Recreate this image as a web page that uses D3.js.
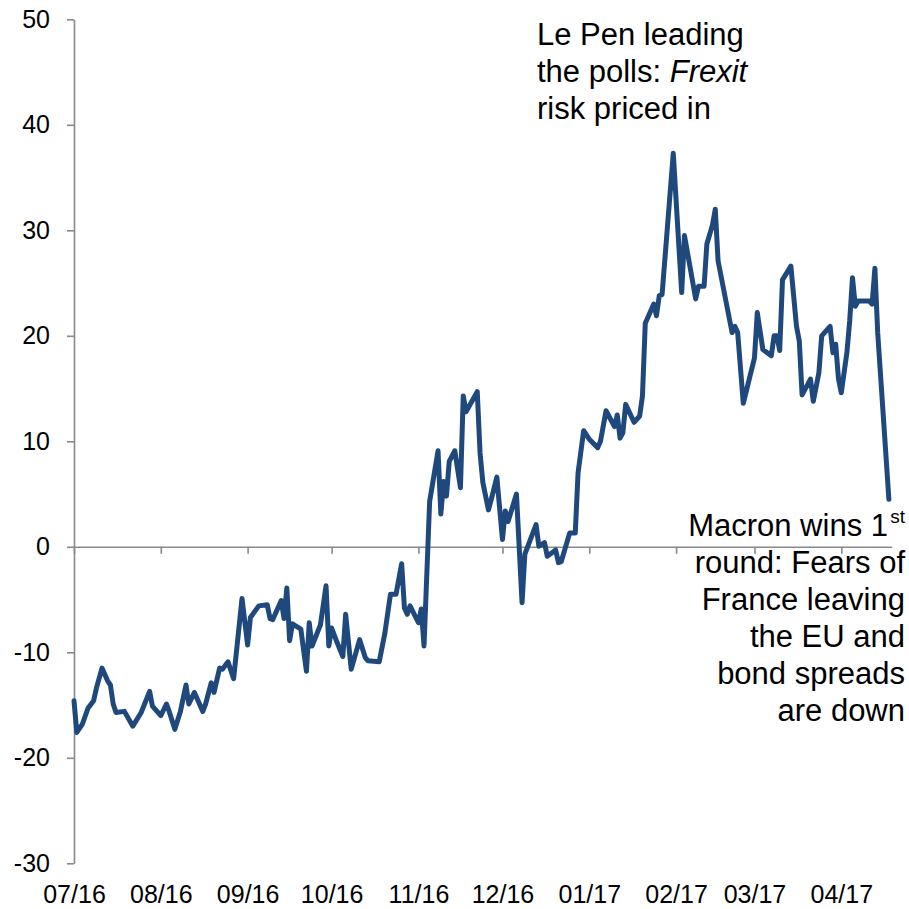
<!DOCTYPE html>
<html>
<head>
<meta charset="utf-8">
<script src="https://cdn.jsdelivr.net/npm/d3@7"></script>
<style>
  html, body { margin: 0; padding: 0; background: #fff; }
  svg { display: block; font-family: "Liberation Sans", Arial, sans-serif; }
</style>
</head>
<body>
<svg id="chart" width="909" height="909"></svg>
<script>
// ---- data ----
const dates = [
  "2016-07-01","2016-07-02","2016-07-04","2016-07-06","2016-07-08","2016-07-09","2016-07-11","2016-07-13","2016-07-14","2016-07-15",
  "2016-07-16","2016-07-19","2016-07-22","2016-07-25","2016-07-28","2016-07-29","2016-08-01","2016-08-03","2016-08-04","2016-08-06",
  "2016-08-08","2016-08-10","2016-08-11","2016-08-13","2016-08-16","2016-08-17","2016-08-19","2016-08-20","2016-08-22","2016-08-23",
  "2016-08-25","2016-08-27","2016-08-30","2016-09-01","2016-09-02","2016-09-05","2016-09-08","2016-09-09","2016-09-10","2016-09-13",
  "2016-09-14","2016-09-15","2016-09-16","2016-09-17","2016-09-20","2016-09-22","2016-09-23","2016-09-24","2016-09-27","2016-09-29",
  "2016-09-30","2016-10-01","2016-10-03","2016-10-05","2016-10-06","2016-10-08","2016-10-11","2016-10-13","2016-10-14","2016-10-18",
  "2016-10-20","2016-10-22","2016-10-24","2016-10-26","2016-10-27","2016-10-28","2016-10-29","2016-11-01","2016-11-02","2016-11-03",
  "2016-11-05","2016-11-08","2016-11-09","2016-11-10","2016-11-11","2016-11-12","2016-11-14","2016-11-16","2016-11-17","2016-11-18",
  "2016-11-22","2016-11-23","2016-11-24","2016-11-26","2016-11-27","2016-11-29","2016-12-01","2016-12-02","2016-12-03","2016-12-06",
  "2016-12-08","2016-12-09","2016-12-13","2016-12-14","2016-12-16","2016-12-17","2016-12-20","2016-12-21","2016-12-22","2016-12-25",
  "2016-12-27","2016-12-28","2016-12-30","2017-01-01","2017-01-04","2017-01-05","2017-01-07","2017-01-10","2017-01-11","2017-01-12",
  "2017-01-13","2017-01-14","2017-01-17","2017-01-19","2017-01-20","2017-01-21","2017-01-24","2017-01-25","2017-01-26","2017-01-27",
  "2017-01-31","2017-02-03","2017-02-04","2017-02-08","2017-02-09","2017-02-11","2017-02-12","2017-02-14","2017-02-15","2017-02-16",
  "2017-02-21","2017-02-22","2017-02-23","2017-02-25","2017-03-01","2017-03-02","2017-03-04","2017-03-07","2017-03-08","2017-03-09",
  "2017-03-10","2017-03-11","2017-03-14","2017-03-16","2017-03-17","2017-03-18","2017-03-21","2017-03-22","2017-03-24","2017-03-25",
  "2017-03-28","2017-03-29","2017-03-30","2017-03-31","2017-04-01","2017-04-03","2017-04-04","2017-04-05","2017-04-06","2017-04-07",
  "2017-04-11","2017-04-12","2017-04-13","2017-04-14","2017-04-18"
];
const spread = [
  -14.6,-17.6,-16.8,-15.3,-14.6,-13.4,-11.5,-12.7,-13.1,-14.9,
  -15.7,-15.6,-17.0,-15.7,-13.7,-15.1,-16.0,-14.9,-15.6,-17.3,
  -15.6,-13.1,-14.9,-13.8,-15.6,-14.9,-12.9,-13.8,-11.5,-11.6,
  -10.9,-12.5,-4.9,-9.3,-6.7,-5.6,-5.5,-6.8,-6.9,-5.1,
  -6.8,-3.9,-8.9,-7.3,-7.8,-11.8,-7.2,-9.4,-7.4,-3.7,
  -9.4,-7.7,-9.1,-10.4,-6.4,-11.6,-8.8,-10.5,-10.8,-10.9,
  -8.2,-4.5,-4.5,-1.6,-5.8,-6.4,-5.6,-7.2,-5.9,-9.4,
  4.3,9.1,3.1,6.2,4.8,8.1,9.1,5.6,14.3,12.8,
  14.7,8.9,6.1,3.5,4.5,6.6,0.7,3.4,2.4,5.0,
  -5.3,-0.7,2.1,0.05,0.4,-0.9,-0.3,-1.5,-1.4,1.3,
  1.3,7.0,11.0,10.2,9.4,10.0,12.9,11.4,12.5,10.3,
  10.8,13.5,11.8,12.4,14.3,21.2,23.0,21.9,23.8,23.9,
  37.3,24.1,29.5,23.5,24.7,24.7,28.7,30.5,32.0,27.1,
  20.3,20.9,20.3,13.6,17.9,22.2,18.7,18.1,20.0,20.0,
  18.6,25.3,26.6,20.9,19.5,14.4,15.9,13.8,16.5,20.0,
  20.9,18.4,19.2,15.9,14.6,18.4,21.4,25.5,22.8,23.3,
  23.3,23.0,26.4,20.3,4.5
];
const yTicks = [-30, -20, -10, 0, 10, 20, 30, 40, 50];
const xDomain = ["2016-07-01", "2017-04-19"];
const noteLePen = ["Le Pen leading", "the polls: ", "risk priced in"];
const noteMacron = ["Macron wins 1", "round: Fears of", "France leaving", "the EU and", "bond spreads", "are down"];

// ---- chart ----
const parse = d3.timeParse("%Y-%m-%d");
const data = dates.map((d, i) => ({ date: parse(d), value: spread[i] }));
const svg = d3.select("#chart");
const axisColor = "#898989";
const lineColor = "#1f497d";
const fontFam = "'Liberation Sans', Arial, sans-serif";

const x = d3.scaleTime().domain(xDomain.map(parse)).range([74, 891.7]);
const y = d3.scaleLinear().domain([-30, 50]).range([863.3, 19.3]);

// y axis
const gy = svg.append("g").attr("transform", "translate(74,0)")
  .call(d3.axisLeft(y).tickValues(yTicks).tickSize(7).tickPadding(17).tickSizeOuter(0)
    .tickFormat(d => String(d)));
gy.select(".domain").attr("stroke", axisColor).attr("stroke-width", 1.6);
gy.selectAll(".tick line").attr("stroke", axisColor).attr("stroke-width", 1.6);
gy.selectAll(".tick text").attr("font-size", 25).attr("fill", "#000").attr("font-family", fontFam);

// x axis line at zero with month ticks
const monthTicks = d3.timeMonth.range(parse("2016-07-01"), parse("2017-04-02"));
const gx = svg.append("g").attr("transform", `translate(0,${y(0)})`)
  .call(d3.axisBottom(x).tickValues(monthTicks).tickSize(7).tickSizeOuter(0).tickFormat(""));
gx.select(".domain").attr("stroke", axisColor).attr("stroke-width", 1.6);
gx.selectAll(".tick line").attr("stroke", axisColor).attr("stroke-width", 1.6);

// x labels at bottom
const gxl = svg.append("g").attr("transform", "translate(0,877)")
  .call(d3.axisBottom(x).tickValues(monthTicks).tickSize(0).tickPadding(8).tickFormat(d3.timeFormat("%m/%y")));
gxl.select(".domain").remove();
gxl.selectAll(".tick text").attr("font-size", 25).attr("fill", "#000").attr("font-family", fontFam);

// line
svg.append("path").datum(data)
  .attr("fill", "none")
  .attr("stroke", lineColor)
  .attr("stroke-width", 5)
  .attr("stroke-linejoin", "round")
  .attr("stroke-linecap", "round")
  .attr("d", d3.line().x(d => x(d.date)).y(d => y(d.value)));

// annotations
const fs = 31;
const t1 = svg.append("text").attr("font-size", fs).attr("fill", "#000");
noteLePen.forEach((s, i) => {
  t1.append("tspan").attr("x", 537).attr("y", 45 + i * 37).text(s);
  if (i === 1) t1.append("tspan").attr("font-style", "italic").text("Frexit");
});

const t2 = svg.append("g").attr("font-size", fs).attr("fill", "#000").attr("text-anchor", "end");
noteMacron.forEach((s, i) => {
  t2.append("text").attr("x", i === 0 ? 888 : 905).attr("y", 536 + i * 37).text(s);
});
t2.append("text").attr("x", 905).attr("y", 523).attr("font-size", 19).text("st");
</script>
</body>
</html>
